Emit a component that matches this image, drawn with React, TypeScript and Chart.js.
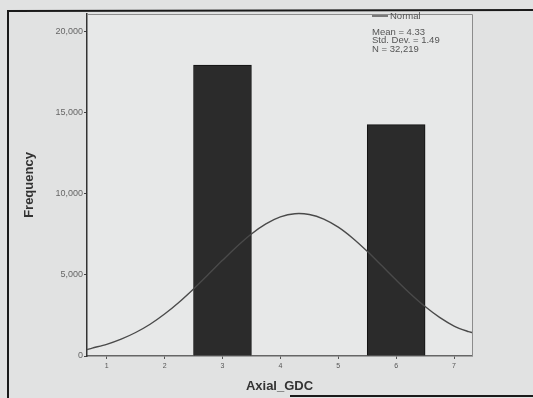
import React, { useEffect, useRef } from "react";
import { Chart, registerables } from "chart.js";

Chart.register(...registerables);

// Histogram bins (Axial_GDC) and frequencies
const binCenters = [1, 2, 3, 4, 5, 6, 7];
const frequencies: (number | null)[] = [null, null, 17950, null, null, 14270, null];

// Fitted normal curve
const curveX = [
  0.66, 0.75, 1, 1.25, 1.5, 1.75, 2, 2.25, 2.5, 2.75, 3, 3.25, 3.5, 3.75, 4, 4.25,
  4.5, 4.75, 5, 5.25, 5.5, 5.75, 6, 6.25, 6.5, 6.75, 7, 7.25, 7.31,
];
const curveY = [
  400, 490, 720, 1040, 1450, 1960, 2590, 3320, 4140, 5010, 5900, 6760, 7530, 8150, 8580, 8780,
  8730, 8450, 7950, 7270, 6460, 5580, 4690, 3830, 3050, 2380, 1850, 1500, 1450,
];

const xTicks = [1, 2, 3, 4, 5, 6, 7];
const yTicks = [0, 5000, 10000, 15000, 20000];
const xMin = 0.66;
const xMax = 7.31;
const yMax = 21100;

const legendLabel = "Normal";
const statsLines = ["Mean = 4.33", "Std. Dev. = 1.49", "N = 32,219"];

const FONT = "'Liberation Sans', Arial, sans-serif";

const decorPlugin = {
  id: "decor",
  beforeDraw(chart: any) {
    const { ctx, width, height, chartArea: a } = chart;
    ctx.save();
    ctx.fillStyle = "#e1e2e2";
    ctx.fillRect(0, 0, width, height);
    ctx.fillStyle = "#e7e8e8";
    ctx.fillRect(a.left, a.top, a.right - a.left, a.bottom - a.top);
    ctx.restore();
  },
  afterDraw(chart: any) {
    const { ctx, width, height, chartArea: a } = chart;
    ctx.save();
    // plot frame top / right
    ctx.strokeStyle = "#8c8c8c";
    ctx.lineWidth = 1;
    ctx.beginPath();
    ctx.moveTo(a.left, a.top + 0.5);
    ctx.lineTo(a.right + 0.5, a.top + 0.5);
    ctx.lineTo(a.right + 0.5, a.bottom);
    ctx.stroke();

    // outer photographed frame
    ctx.strokeStyle = "#1a1a1a";
    ctx.lineWidth = 2;
    ctx.beginPath();
    ctx.moveTo(8, height);
    ctx.lineTo(8, 11);
    ctx.lineTo(width, 10);
    ctx.stroke();
    ctx.beginPath();
    ctx.moveTo(290, height - 2);
    ctx.lineTo(width, height - 2);
    ctx.stroke();

    // legend
    const lx = a.right - 100;
    const ly = a.top + 2;
    ctx.strokeStyle = "#555";
    ctx.lineWidth = 1.5;
    ctx.beginPath();
    ctx.moveTo(lx, ly);
    ctx.lineTo(lx + 16, ly);
    ctx.stroke();
    ctx.fillStyle = "#555";
    ctx.font = `9.5px ${FONT}`;
    ctx.textBaseline = "middle";
    ctx.textAlign = "left";
    ctx.fillText(legendLabel, lx + 18, ly);
    statsLines.forEach((t, i) => {
      ctx.fillText(t, lx, ly + 16 + i * 8.5);
    });
    ctx.restore();
  },
};

export default function App() {
  const ref = useRef<HTMLCanvasElement | null>(null);

  useEffect(() => {
    if (!ref.current) return;
    const chart = new Chart(ref.current, {
      type: "bar",
      data: {
        datasets: [
          {
            type: "line",
            label: legendLabel,
            data: curveX.map((x, i) => ({ x, y: curveY[i] })),
            borderColor: "#4a4a4a",
            borderWidth: 1.4,
            pointRadius: 0,
            tension: 0.3,
            fill: false,
          } as any,
          {
            type: "bar",
            label: "Frequency",
            data: binCenters.map((x, i) => ({ x, y: frequencies[i] })),
            backgroundColor: "#2b2b2b",
            borderColor: "#111",
            borderWidth: 1,
            barPercentage: 1,
            categoryPercentage: 1,
          } as any,
        ],
      },
      options: {
        animation: false,
        responsive: false,
        maintainAspectRatio: false,
        layout: { padding: { left: 0, top: 14, right: 61, bottom: 0 } },
        plugins: { legend: { display: false }, tooltip: { enabled: false } },
        scales: {
          x: {
            type: "linear",
            min: xMin,
            max: xMax,
            offset: false,
            afterBuildTicks: (s: any) => {
              s.ticks = xTicks.map((v) => ({ value: v }));
            },
            afterFit: (s: any) => {
              s.height = 42;
            },
            grid: {
              display: true,
              drawOnChartArea: false,
              offset: false,
              tickLength: 3,
              color: "#555",
            },
            border: { display: true, color: "#666", width: 1.5 },
            ticks: {
              padding: 3,
              color: "#555",
              font: { family: FONT, size: 7 },
              maxRotation: 0,
              autoSkip: false,
              callback: (v: any) => String(v),
            },
            title: {
              display: true,
              text: "Axial_GDC",
              color: "#333",
              font: { family: FONT, size: 13, weight: "bold" },
              padding: { top: 0, bottom: 4 },
            },
          },
          y: {
            min: 0,
            max: yMax,
            afterBuildTicks: (s: any) => {
              s.ticks = yTicks.map((v) => ({ value: v }));
            },
            afterFit: (s: any) => {
              s.width = 87;
            },
            grid: {
              display: true,
              drawOnChartArea: false,
              tickLength: 3,
              color: "#444",
            },
            border: { display: true, color: "#333", width: 1.5 },
            ticks: {
              padding: 1,
              color: "#666",
              font: { family: FONT, size: 9 },
              callback: (v: any) => Number(v).toLocaleString("en-US"),
            },
            title: {
              display: true,
              text: "Frequency",
              color: "#333",
              font: { family: FONT, size: 13, weight: "bold" },
              padding: { top: 22, bottom: 0 },
            },
          },
        },
      } as any,
      plugins: [decorPlugin],
    });
    return () => chart.destroy();
  }, []);

  return (
    <div style={{ position: "absolute", left: 0, top: 0, width: 533, height: 398 }}>
      <canvas ref={ref} width={533} height={398} style={{ display: "block", width: 533, height: 398 }} />
    </div>
  );
}
